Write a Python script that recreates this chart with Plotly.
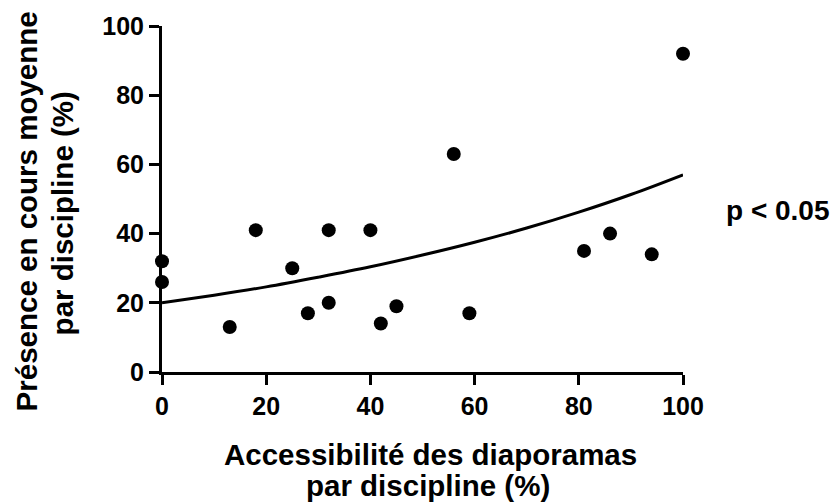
import plotly.graph_objects as go

# Data
access_pct = [0, 0, 13, 18, 25, 28, 32, 32, 40, 42, 45, 56, 59, 81, 86, 94, 100]
presence_pct = [32, 26, 13, 41, 30, 17, 41, 20, 41, 14, 19, 63, 17, 35, 40, 34, 92]

# Fitted trend curve
curve_x = [0, 10, 20, 30, 40, 50, 60, 70, 80, 90, 100]
curve_y = [20, 22.2, 24.6, 27.4, 30.4, 33.8, 37.5, 41.6, 46.2, 51.3, 57]

x_ticks = [0, 20, 40, 60, 80, 100]
y_ticks = [0, 20, 40, 60, 80, 100]

x_title = ["Accessibilité des diaporamas", "par discipline (%)"]
y_title = ["Présence en cours moyenne", "par discipline (%)"]
p_text = "p < 0.05"

W, H = 832, 504
L, R, T, B = 162, 683, 23, 372
FONT = "Liberation Sans, Arial, sans-serif"


def px(x):
    return (x - L) / (R - L)


def py(y):
    return (B - y) / (B - T)


fig = go.Figure()
fig.add_trace(go.Scatter(
    x=curve_x, y=curve_y, mode="lines",
    line=dict(color="black", width=3, shape="spline"),
    hoverinfo="skip", showlegend=False, cliponaxis=False,
))
fig.add_trace(go.Scatter(
    x=access_pct, y=presence_pct, mode="markers",
    marker=dict(color="black", size=14),
    showlegend=False, cliponaxis=False,
))

axis_common = dict(
    showgrid=False, zeroline=False, showline=True, linecolor="black",
    linewidth=3, ticks="outside", ticklen=10, tickwidth=3, tickcolor="black",
    tickfont=dict(family=FONT, size=25, color="black", weight="bold"),
    fixedrange=True,
)

fig.update_xaxes(range=[0, 100], tickvals=x_ticks, ticktext=[str(v) for v in x_ticks],
                 ticklabelstandoff=0, **axis_common)
fig.update_yaxes(range=[0, 100], tickvals=y_ticks, ticktext=[str(v) for v in y_ticks],
                 ticklabelstandoff=0, **axis_common)

title_font = dict(family=FONT, size=29.5, color="black", weight="bold")
p_font = dict(family=FONT, size=28, color="black", weight="bold")
annotations = [
    dict(text=x_title[0], x=px(430), y=py(455), xref="paper", yref="paper",
         showarrow=False, xanchor="center", yanchor="middle", font=title_font),
    dict(text=x_title[1], x=px(428), y=py(486), xref="paper", yref="paper",
         showarrow=False, xanchor="center", yanchor="middle", font=title_font),
    dict(text=y_title[0], x=px(26), y=py(210), xref="paper", yref="paper",
         showarrow=False, xanchor="center", yanchor="middle", textangle=-90,
         font=title_font),
    dict(text=y_title[1], x=px(62), y=py(212), xref="paper", yref="paper",
         showarrow=False, xanchor="center", yanchor="middle", textangle=-90,
         font=title_font),
    dict(text=p_text, x=px(724), y=py(209), xref="paper", yref="paper",
         showarrow=False, xanchor="left", yanchor="middle", font=p_font),
]

fig.update_layout(
    width=W, height=H,
    margin=dict(l=L, r=W - R, t=T, b=H - B, pad=0),
    paper_bgcolor="white", plot_bgcolor="white",
    annotations=annotations,
)

fig.write_html("out.html")
